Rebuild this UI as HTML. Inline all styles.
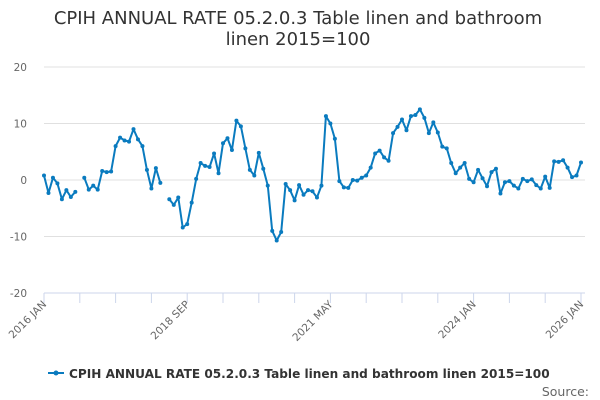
<!DOCTYPE html>
<html><head><meta charset="utf-8"><style>
body{margin:0;background:#fff;font-family:"DejaVu Sans","Liberation Sans",sans-serif}
</style></head><body>
<svg id="c" width="600" height="400" xmlns="http://www.w3.org/2000/svg" style="display:block;font-family:'DejaVu Sans','Liberation Sans',sans-serif">
<text x="298" y="24" text-anchor="middle" font-size="18" fill="#333">CPIH ANNUAL RATE 05.2.0.3 Table linen and bathroom</text>
<text x="298" y="45" text-anchor="middle" font-size="18" fill="#333">linen 2015=100</text>
<g id="grid"></g><g id="axes"></g><g id="series"></g>
<g>
<line x1="48" y1="373" x2="64" y2="373" stroke="#0a7bbf" stroke-width="2"/>
<circle cx="56" cy="373" r="2.5" fill="#0a7bbf"/>
<text x="69" y="378" font-size="12.1" font-weight="bold" fill="#333">CPIH ANNUAL RATE 05.2.0.3 Table linen and bathroom linen 2015=100</text>
</g>
<text x="589" y="396" text-anchor="end" font-size="12.5" fill="#666">Source:</text>
</svg>
<script>
const yTicks=[20,10,0,-10,-20];
const xLabels=["2016 JAN","2018 SEP","2021 MAY","2024 JAN","2026 JAN"];
const xLabelIdx=[0,32,64,96,120];
const values=[0.8,-2.3,0.4,-0.6,-3.4,-1.8,-3.0,-2.1,null,0.4,-1.7,-1.0,
-1.7,1.6,1.4,1.5,6.0,7.5,7.0,6.8,9.0,7.2,6.0,1.8,
-1.5,2.1,-0.5,null,-3.4,-4.4,-3.1,-8.4,-7.8,-4.0,0.2,3.0,
2.5,2.3,4.7,1.2,6.5,7.4,5.3,10.5,9.5,5.6,1.8,0.8,
4.8,2.0,-1.0,-9.0,-10.7,-9.2,-0.7,-1.8,-3.6,-0.9,-2.6,-1.8,
-2.0,-3.1,-1.0,11.3,10.0,7.3,-0.2,-1.3,-1.4,0.0,-0.1,0.4,
0.8,2.2,4.7,5.2,4.0,3.4,8.3,9.4,10.7,8.8,11.3,11.5,
12.5,11.0,8.3,10.2,8.4,5.9,5.6,3.0,1.2,2.2,3.0,0.2,
-0.4,1.8,0.3,-1.1,1.4,2.0,-2.4,-0.4,-0.2,-1.0,-1.5,0.2,
-0.2,0.1,-0.9,-1.5,0.6,-1.4,3.3,3.2,3.5,2.2,0.5,0.8,3.1];
const NS="http://www.w3.org/2000/svg";
const x0=44,x1=581,yTop=67,yBot=293;
const X=i=>x0+(x1-x0)*i/(values.length-1);
const Y=v=>yBot-(v+20)/40*(yBot-yTop);
function mk(t,a,p){const e=document.createElementNS(NS,t);for(const k in a)e.setAttribute(k,a[k]);p.appendChild(e);return e;}
const grid=document.getElementById('grid'),axes=document.getElementById('axes'),ser=document.getElementById('series');
yTicks.forEach(v=>{
 const l=mk('line',{x1:x0,x2:x1+4,y1:Y(v),y2:Y(v),stroke:'#e0e0e0'},grid);
 
 
 const t=mk('text',{x:27,y:Y(v)+4,'text-anchor':'end','font-size':10.5,fill:'#666'},axes);
 
 
 t.textContent=v;
});
const ax=mk('line',{x1:x0,x2:x1+4,y1:yBot,y2:yBot,stroke:'#ccd6eb'},axes);


for(let i=0;i<values.length;i+=8){
 const tk=mk('line',{x1:X(i),x2:X(i),y1:yBot,y2:yBot+10,stroke:'#ccd6eb'},axes);
 
 
}
xLabels.forEach((s,k)=>{
 const xx=X(xLabelIdx[k]);
 const t=mk('text',{x:xx+3,y:yBot+12,'text-anchor':'end','font-size':10.5,fill:'#666',transform:`rotate(-45 ${xx+3} ${yBot+12})`},axes);
 
 
 t.textContent=s;
});
let d='',pen=false;
values.forEach((v,i)=>{if(v===null){pen=false;return;}d+=(pen?'L':'M')+X(i).toFixed(1)+' '+Y(v).toFixed(1);pen=true;});
const p=mk('path',{d:d,fill:'none',stroke:'#0a7bbf','stroke-width':2,'stroke-linejoin':'round'},ser);


values.forEach((v,i)=>{if(v===null)return;
 const c=mk('circle',{cx:X(i),cy:Y(v),r:2,fill:'#0a7bbf'},ser);
 
 
});
</script>
</body></html>
